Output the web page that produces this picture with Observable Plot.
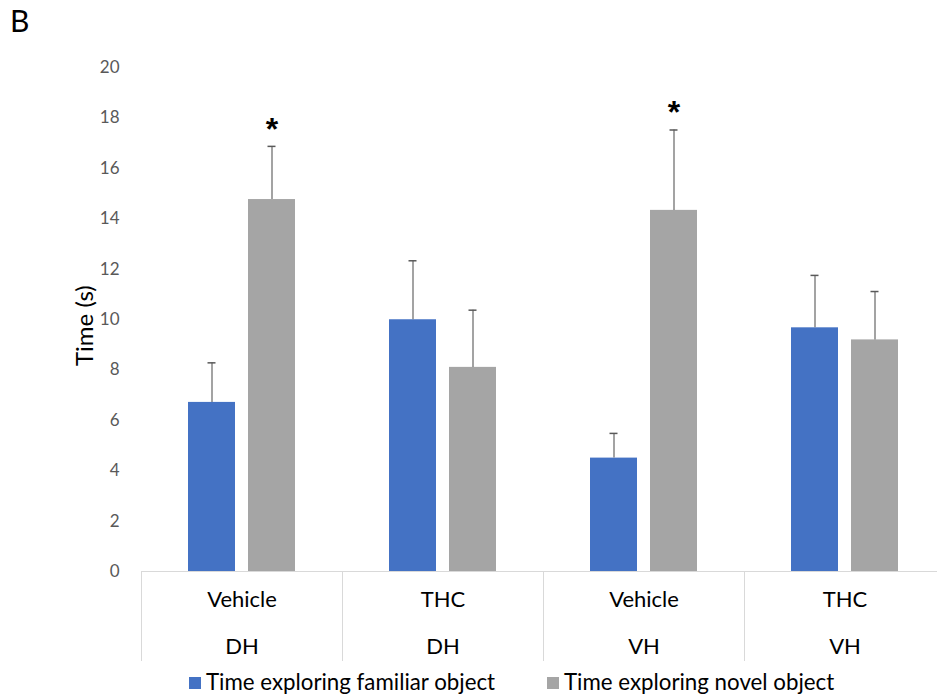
<!DOCTYPE html>
<html><head><meta charset="utf-8">
<script src="https://cdn.jsdelivr.net/npm/d3@7"></script>
<script src="https://cdn.jsdelivr.net/npm/@observablehq/plot@0.6"></script>
<style>
body{margin:0;background:#fff;font-family:Lato,"Noto Sans",sans-serif;}
#wrap{position:relative;width:937px;height:696px;overflow:hidden;}
#panel{position:absolute;left:10px;top:2px;font-size:30px;color:#000;}
.lg{position:absolute;top:669px;font-size:22.3px;color:#000;white-space:nowrap;line-height:26px;}
.sw{position:absolute;top:677px;width:12px;height:12px;}
</style></head>
<body><div id="wrap"><div id="chart"></div><div id="panel">B</div><div id="legend"></div></div>
<script>
const groups = ["DH|Vehicle", "DH|THC", "VH|Vehicle", "VH|THC"];
const treatments = ["Vehicle", "THC", "Vehicle", "THC"];
const regions = ["DH", "DH", "VH", "VH"];
const series = ["Time exploring familiar object", "Time exploring novel object"];
const colors = ["#4472C4", "#A5A5A5"];
const familiar = [6.71, 9.99, 4.5, 9.67];
const familiarErr = [1.57, 2.34, 0.98, 2.08];
const novel = [14.76, 8.1, 14.33, 9.19];
const novelErr = [2.11, 2.27, 3.19, 1.92];
const novelSig = [true, false, true, false];
const yTicks = [0, 2, 4, 6, 8, 10, 12, 14, 16, 18, 20];

const data = groups.flatMap((g, i) => [
  {group: g, series: series[0], value: familiar[i], err: familiarErr[i], sig: false},
  {group: g, series: series[1], value: novel[i], err: novelErr[i], sig: novelSig[i]}
]);

const chart = Plot.plot({
  width: 937, height: 696,
  marginTop: 67, marginBottom: 36, marginLeft: 140, marginRight: 0,
  fx: {domain: groups, range: [140, 946], padding: 0, axis: null},
  x: {domain: series, paddingInner: 0.21, paddingOuter: 0.767, axis: null},
  y: {domain: [0, 20], range: [571, 67], axis: null},
  color: {domain: series, range: colors},
  style: {fontFamily: "Lato, 'Noto Sans', sans-serif", background: "#fff"},
  marks: [
    Plot.frame({anchor: "left", stroke: "#d9d9d9", insetTop: 504}),
    Plot.ruleY([0], {stroke: "#d9d9d9"}),
    Plot.barY(data, {fx: "group", x: "series", y: "value", fill: "series"}),
    Plot.ruleX(data, {fx: "group", x: "series", y1: "value", y2: d => d.value + d.err, stroke: "#666", strokeWidth: 1.2}),
    Plot.tickY(data, {fx: "group", x: "series", y: d => d.value + d.err, stroke: "#595959", strokeWidth: 1.5, insetLeft: 19.5, insetRight: 19.5}),
    Plot.text(data.filter(d => d.sig), {fx: "group", x: "series", y: d => d.value + d.err, text: () => "*", fontSize: 32, fontWeight: "bold", fontFamily: "Liberation Sans, sans-serif", fill: "#000", dy: -17}),
    Plot.axisY({ticks: yTicks, tickSize: 0, tickPadding: 22, fontSize: 17, color: "#595959", label: null}),
    Plot.text(groups, {fx: d => d, text: (d, i) => treatments[i], frameAnchor: "bottom", dy: -54, fontSize: 22, fill: "#000"}),
    Plot.text(groups, {fx: d => d, text: (d, i) => regions[i], frameAnchor: "bottom", dy: -7, fontSize: 22, fill: "#000"}),
    Plot.text(["Time (s)"], {fx: () => groups[0], text: d => d, frameAnchor: "left", rotate: -90, dx: -56, dy: 2, fontSize: 24, fill: "#000"})
  ]
});
document.getElementById("chart").appendChild(chart);

const legend = document.getElementById("legend");
const lgX = [189, 547];
series.forEach((s, i) => {
  const sw = document.createElement("div");
  sw.className = "sw"; sw.style.left = lgX[i] + "px"; sw.style.background = colors[i];
  const t = document.createElement("div");
  t.className = "lg"; t.style.left = (lgX[i] + 17) + "px"; t.textContent = s;
  legend.appendChild(sw); legend.appendChild(t);
});
</script></body></html>
